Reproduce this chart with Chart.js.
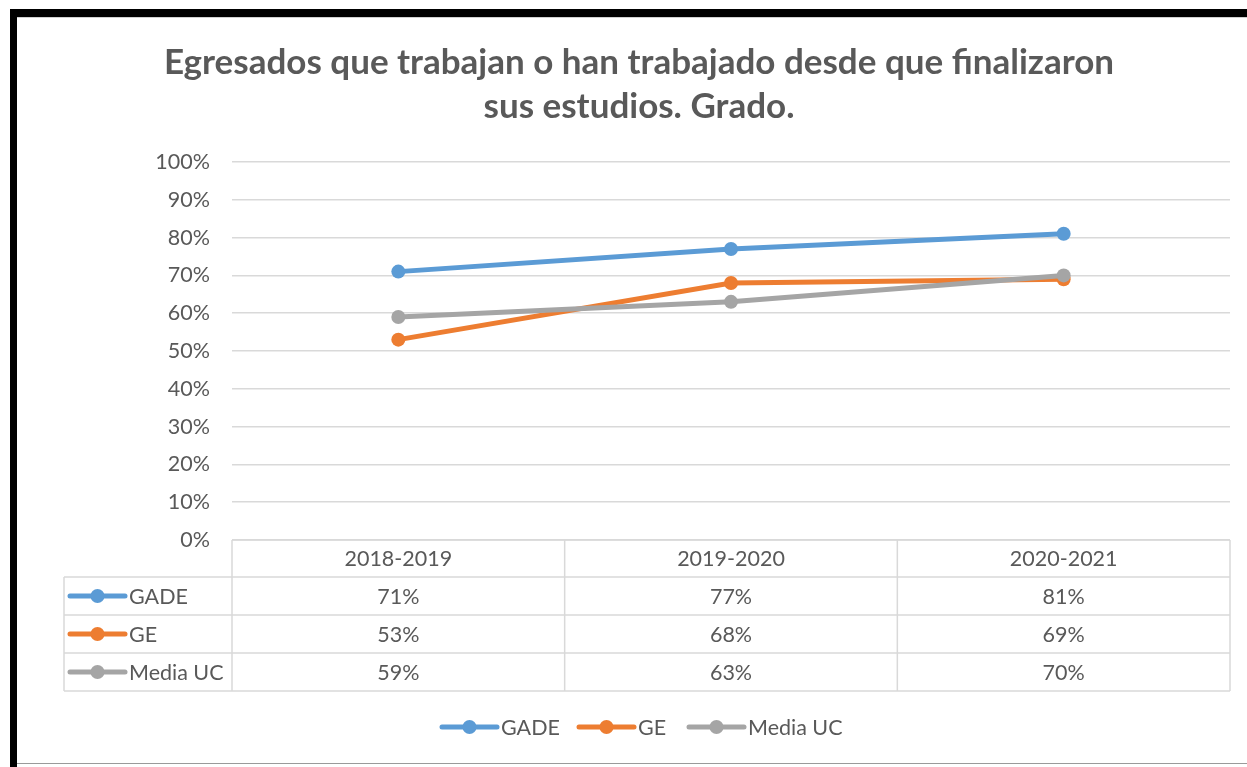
<!DOCTYPE html>
<html>
<head>
<meta charset="utf-8">
<script src="https://cdn.jsdelivr.net/npm/chart.js@4.4.1/dist/chart.umd.min.js"></script>
<style>
  html, body { margin: 0; padding: 0; background: #fff; overflow: hidden; }
  #wrap { position: relative; width: 1247px; height: 767px; }
  canvas { position: absolute; left: 0; top: 0; }
  .bar { position: absolute; background: #000; }
</style>
</head>
<body>
<div id="wrap">
  <canvas id="chart" width="1247" height="767"></canvas>
  <!-- black frame on top and left, like the screenshot -->
  <div class="bar" style="left:10px; top:9px; width:1237px; height:8px;"></div>
  <div class="bar" style="left:10px; top:9px; width:7px; height:758px;"></div>
  <div style="position:absolute; left:17px; top:17px; width:1230px; height:1px; background:#d0d0d0;"></div>
  <div style="position:absolute; left:17px; top:763px; width:1230px; height:1px; background:#9a9a9a;"></div>
</div>
<script>
// ---------------------------------------------------------
// Data
// ---------------------------------------------------------
const titleLines = ["Egresados que trabajan o han trabajado desde que finalizaron", "sus estudios. Grado."];
const years = ["2018-2019", "2019-2020", "2020-2021"];
const seriesNames = ["GADE", "GE", "Media UC"];
const gade = [0.71, 0.77, 0.81];
const ge = [0.53, 0.68, 0.69];
const mediaUC = [0.59, 0.63, 0.70];
const seriesColors = ["#5B9BD5", "#ED7D31", "#A5A5A5"];

const TEXT = "#595959";
const GRID = "#d9d9d9";
const FONT = "Lato, 'Open Sans', sans-serif";
const BODY_SIZE = 21.5;

const pct = v => Math.round(v * 100) + "%";

// little line+marker swatch, same look as Excel legend keys
function drawKey(ctx, x1, x2, y, color) {
  ctx.save();
  ctx.strokeStyle = color;
  ctx.lineWidth = 5;
  ctx.lineCap = "round";
  ctx.beginPath();
  ctx.moveTo(x1, y);
  ctx.lineTo(x2, y);
  ctx.stroke();
  ctx.fillStyle = color;
  ctx.beginPath();
  ctx.arc((x1 + x2) / 2, y, 7, 0, Math.PI * 2);
  ctx.fill();
  ctx.restore();
}

// ---------------------------------------------------------
// Plugin: title, data table under the plot, bottom legend
// ---------------------------------------------------------
const extrasPlugin = {
  id: "extras",
  afterDraw(chart) {
    const ctx = chart.ctx;
    const area = chart.chartArea;
    const x = chart.scales.x;
    const allData = chart.data.datasets.map(d => d.data);

    // title
    ctx.save();
    ctx.fillStyle = TEXT;
    ctx.font = "bold 35px " + FONT;
    ctx.textAlign = "center";
    ctx.textBaseline = "middle";
    ctx.fillText(titleLines[0], 639, 63);
    ctx.fillText(titleLines[1], 639, 107);
    ctx.restore();

    // data table
    const colW = x.getPixelForValue(1) - x.getPixelForValue(0);
    const top = area.bottom;
    const headerH = 37;
    const rowH = 38;
    const tableLeft = 64;
    const bottom = top + headerH + rowH * seriesNames.length;

    ctx.save();
    ctx.strokeStyle = GRID;
    ctx.lineWidth = 1.5;
    ctx.beginPath();
    // horizontal lines
    ctx.moveTo(area.left, top);
    ctx.lineTo(area.right, top);
    for (let r = 0; r <= seriesNames.length; r++) {
      const y = top + headerH + r * rowH;
      ctx.moveTo(tableLeft, y);
      ctx.lineTo(area.right, y);
    }
    // vertical lines
    for (let c = 0; c <= years.length; c++) {
      const xx = area.left + c * colW;
      ctx.moveTo(xx, top);
      ctx.lineTo(xx, bottom);
    }
    ctx.moveTo(tableLeft, top + headerH);
    ctx.lineTo(tableLeft, bottom);
    ctx.stroke();

    ctx.fillStyle = TEXT;
    ctx.font = BODY_SIZE + "px " + FONT;
    ctx.textAlign = "center";
    ctx.textBaseline = "middle";
    years.forEach((yr, i) => {
      ctx.fillText(yr, x.getPixelForValue(i), top + headerH / 2 + 1);
    });
    seriesNames.forEach((name, r) => {
      const cy = top + headerH + r * rowH + rowH / 2 + 1;
      allData[r].forEach((v, i) => {
        ctx.fillText(pct(v), x.getPixelForValue(i), cy);
      });
      drawKey(ctx, 70, 125, cy - 1, seriesColors[r]);
      ctx.textAlign = "left";
      ctx.fillText(name, 129, cy);
      ctx.textAlign = "center";
    });
    ctx.restore();

    // bottom legend
    const legendX = [442, 579, 689];
    ctx.save();
    ctx.fillStyle = TEXT;
    ctx.font = BODY_SIZE + "px " + FONT;
    ctx.textAlign = "left";
    ctx.textBaseline = "middle";
    seriesNames.forEach((name, i) => {
      drawKey(ctx, legendX[i], legendX[i] + 55, 727, seriesColors[i]);
      ctx.fillText(name, legendX[i] + 59, 728);
    });
    ctx.restore();
  }
};

// ---------------------------------------------------------
// Chart
// ---------------------------------------------------------
function makeDataset(label, data, color, order) {
  return {
    label: label,
    data: data,
    borderColor: color,
    backgroundColor: color,
    borderWidth: 5,
    pointRadius: 7,
    pointBorderWidth: 0,
    pointBackgroundColor: color,
    tension: 0,
    order: order
  };
}

new Chart(document.getElementById("chart"), {
  type: "line",
  data: {
    labels: years,
    datasets: [
      makeDataset(seriesNames[0], gade, seriesColors[0], 3),
      makeDataset(seriesNames[1], ge, seriesColors[1], 2),
      makeDataset(seriesNames[2], mediaUC, seriesColors[2], 1)
    ]
  },
  options: {
    responsive: false,
    animation: false,
    layout: { padding: { left: 0, right: 17, top: 162, bottom: 227 } },
    plugins: {
      legend: { display: false },
      title: { display: false },
      tooltip: { enabled: false }
    },
    scales: {
      x: {
        display: false,
        offset: true
      },
      y: {
        min: 0,
        max: 1,
        afterFit: scale => { scale.width = 232; },
        ticks: {
          stepSize: 0.1,
          color: TEXT,
          padding: 22,
          font: { family: FONT, size: BODY_SIZE },
          callback: v => pct(v)
        },
        grid: { color: GRID, lineWidth: 1.5, drawTicks: false },
        border: { display: false }
      }
    }
  },
  plugins: [extrasPlugin]
});
</script>
</body>
</html>
